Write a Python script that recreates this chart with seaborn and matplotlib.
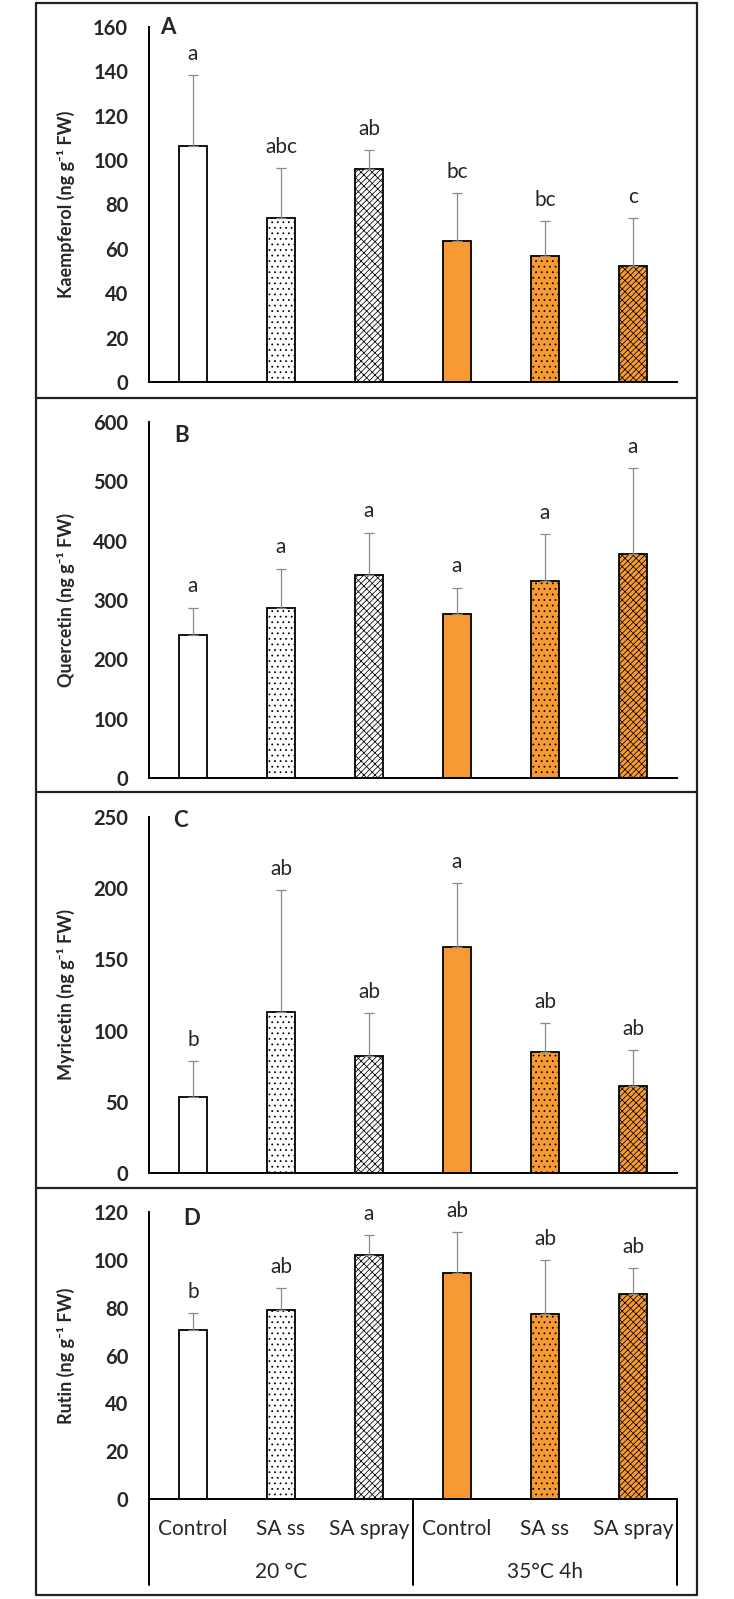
import pandas as pd
import matplotlib.pyplot as plt
import seaborn as sns
from matplotlib.lines import Line2D

# Treatments (two temperature groups x three SA treatments)
treatments = ["Control", "SA ss", "SA spray", "Control", "SA ss", "SA spray"]
groups = ["20 °C", "20 °C", "20 °C", "35°C 4h", "35°C 4h", "35°C 4h"]
group_names = ["20 °C", "35°C 4h"]

# Kaempferol
kaempferol_mean = [106.4, 74.0, 96.0, 63.5, 57.0, 52.3]
kaempferol_sd = [31.9, 22.4, 8.5, 21.5, 15.6, 21.7]
kaempferol_letters = ["a", "abc", "ab", "bc", "bc", "c"]

# Quercetin
quercetin_mean = [241.6, 287.0, 342.7, 276.4, 332.6, 378.0]
quercetin_sd = [45.4, 65.8, 70.8, 44.4, 78.6, 144.5]
quercetin_letters = ["a", "a", "a", "a", "a", "a"]

# Myricetin
myricetin_mean = [53.1, 113.3, 82.2, 158.9, 84.7, 60.9]
myricetin_sd = [25.6, 85.2, 30.2, 44.8, 20.6, 25.5]
myricetin_letters = ["b", "ab", "ab", "a", "ab", "ab"]

# Rutin
rutin_mean = [70.6, 79.1, 102.2, 94.7, 77.3, 85.7]
rutin_sd = [7.2, 9.0, 8.1, 16.9, 22.7, 10.8]
rutin_letters = ["b", "ab", "a", "ab", "ab", "ab"]


sns.set_theme(style="white")
plt.rcParams['font.family'] = ['Lato', 'DejaVu Sans']
plt.rcParams['hatch.linewidth'] = 0.55

orange = "#F79A33"
keys = [g + " " + t for g, t in zip(groups, treatments)]
bar_colors = ["white", "white", "white", orange, orange, orange]
hatches = ["", "...", "//////\\\\\\", "", "...", "//////\\\\\\"]

W, H = 734, 1599
fig = plt.figure(figsize=(W / 100, H / 100), dpi=100)

# panel settings: (name, mean, sd, letters, ylabel, ymax, step, axes box in px, label pos)
panels = [
    ("A", kaempferol_mean, kaempferol_sd, kaempferol_letters,
     "Kaempferol (ng g⁻¹ FW)", 160, 20, (27, 382), (0.036, 1.0)),
    ("B", quercetin_mean, quercetin_sd, quercetin_letters,
     "Quercetin (ng g⁻¹ FW)", 600, 100, (422, 778), (0.062, 0.963)),
    ("C", myricetin_mean, myricetin_sd, myricetin_letters,
     "Myricetin (ng g⁻¹ FW)", 250, 50, (817, 1173), (0.059, 0.99)),
    ("D", rutin_mean, rutin_sd, rutin_letters,
     "Rutin (ng g⁻¹ FW)", 120, 20, (1212, 1499), (0.08, 0.976)),
]

left, right = 149, 677

for name, mean, sd, letters, ylabel, ymax, step, (top, bottom), lpos in panels:
    ax = fig.add_axes([left / W, 1 - bottom / H, (right - left) / W, (bottom - top) / H])
    df = pd.DataFrame({"key": keys, "mean": mean, "sd": sd})

    sns.barplot(data=df, x="key", y="mean", hue="key",
                palette=dict(zip(keys, bar_colors)), saturation=1,
                edgecolor="black", linewidth=1.3, width=0.32,
                errorbar=None, legend=False, ax=ax)
    for patch, h in zip(ax.patches, hatches):
        patch.set_hatch(h)

    pos = list(range(len(keys)))
    ax.errorbar(pos, mean, yerr=[[0] * len(sd), sd], fmt="none",
                ecolor="#8a8a8a", elinewidth=0.9, capsize=3.5, capthick=0.9)

    for i, (m, s, let) in enumerate(zip(mean, sd, letters)):
        ax.annotate(let, (i, m + s), xytext=(0, 11), textcoords="offset points",
                    ha="center", va="baseline", fontsize=15)

    ax.text(lpos[0], lpos[1], name, transform=ax.transAxes, fontsize=16,
            fontweight="bold", ha="center", va="center")

    ax.set_xlim(-0.5, 5.5)
    ax.set_ylim(0, ymax)
    ax.set_yticks(range(0, ymax + 1, step))
    ax.tick_params(axis="y", length=0, pad=15, labelsize=14.5)
    for lab in ax.get_yticklabels():
        lab.set_fontweight("bold")
    ax.set_xticks([])
    ax.set_xlabel("")
    ax.set_ylabel(ylabel, fontsize=13, fontweight="bold")
    ax.yaxis.set_label_coords(-0.14, 0.5)

    sns.despine(ax=ax, top=True, right=True)
    for sp in ["left", "bottom"]:
        ax.spines[sp].set_color("black")
        ax.spines[sp].set_linewidth(1.4)

    if name == "D":
        # category table under the last panel
        depth = -(1585 - bottom) / (bottom - top)
        tr = ax.get_xaxis_transform()
        for i, t in enumerate(treatments):
            ax.text(i, -30 / (bottom - top), t, transform=tr, ha="center",
                    va="center", fontsize=15)
        for g_i, g in enumerate(group_names):
            ax.text(1 + 3 * g_i, -73 / (bottom - top), g, transform=tr,
                    ha="center", va="center", fontsize=15)
        for xv in [-0.5, 2.5, 5.5]:
            ax.add_line(Line2D([xv, xv], [0, depth], transform=tr,
                               color="black", lw=1.4, clip_on=False))

# outer frames around the panels
x0, x1 = 36 / W, 697 / W
for yy in [3, 398, 792, 1188, 1595]:
    fig.add_artist(Line2D([x0, x1], [1 - yy / H, 1 - yy / H], transform=fig.transFigure,
                          color="#222222", lw=1.6))
for xx in [x0, x1]:
    fig.add_artist(Line2D([xx, xx], [1 - 3 / H, 1 - 1595 / H], transform=fig.transFigure,
                          color="#222222", lw=1.6))

fig.savefig("out.png", dpi=100, facecolor="white")
